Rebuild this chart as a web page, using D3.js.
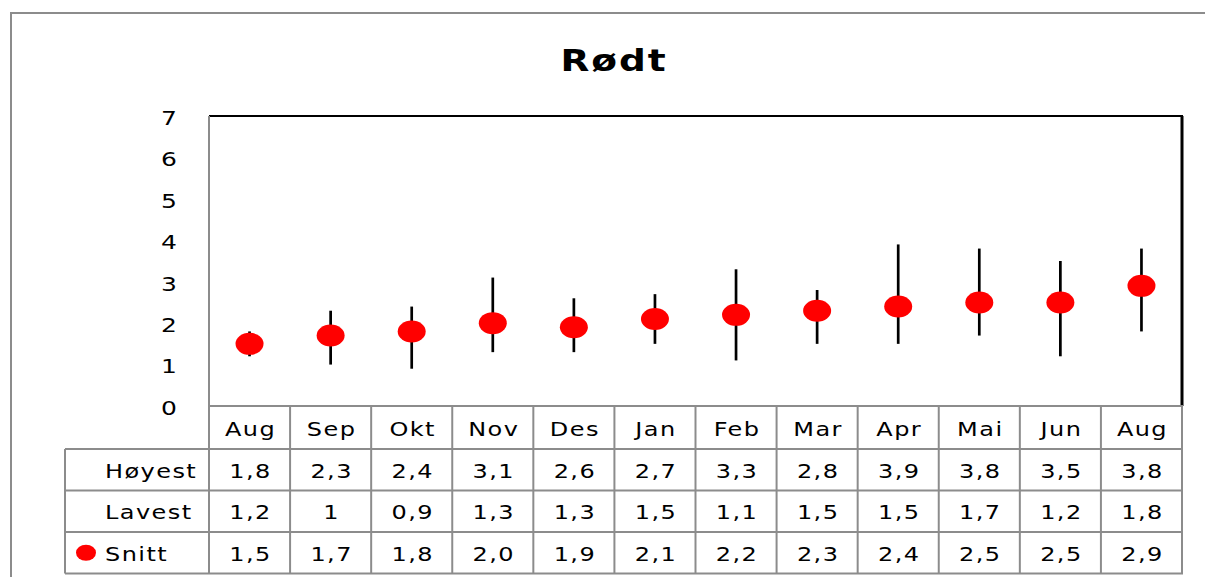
<!DOCTYPE html>
<html>
<head>
<meta charset="utf-8">
<script src="https://cdn.jsdelivr.net/npm/d3@7"></script>
<style>
  html, body { margin: 0; padding: 0; background: #fff; }
  svg { display: block; }
  text { font-family: "DejaVu Sans", sans-serif; fill: #000; }
</style>
</head>
<body>
<svg id="chart" width="1205" height="577"></svg>
<script>
const title = "Rødt";
const categories = ["Aug", "Sep", "Okt", "Nov", "Des", "Jan", "Feb", "Mar", "Apr", "Mai", "Jun", "Aug"];
const hoyest = [1.8, 2.3, 2.4, 3.1, 2.6, 2.7, 3.3, 2.8, 3.9, 3.8, 3.5, 3.8];
const lavest = [1.2, 1, 0.9, 1.3, 1.3, 1.5, 1.1, 1.5, 1.5, 1.7, 1.2, 1.8];
const snitt  = [1.5, 1.7, 1.8, 2.0, 1.9, 2.1, 2.2, 2.3, 2.4, 2.5, 2.5, 2.9];
const rowLabels = ["Høyest", "Lavest", "Snitt"];
const yTicks = [0, 1, 2, 3, 4, 5, 6, 7];

const fmtTable = [
  v => String(v).replace(".", ","),
  v => String(v).replace(".", ","),
  v => v.toFixed(1).replace(".", ",")
];

const SX = 1.2; // horizontal stretch of the original's lettering
const svg = d3.select("#chart");
const W = 1205, H = 577;
const plot = { left: 209, right: 1182, top: 116, bottom: 406 };
const rowH = 41.5;
const headerBottom = 449;
const tableLeft = 65;
const gridColor = "#8c8c8c";

const x = d3.scaleBand().domain(d3.range(categories.length)).range([plot.left, plot.right]).padding(0);
const y = d3.scaleLinear().domain([0, 7]).range([plot.bottom, plot.top]);

function label(sel, px, py, anchor) {
  return sel.attr("transform", (d, i) => `translate(${typeof px === "function" ? px(d, i) : px},${typeof py === "function" ? py(d, i) : py}) scale(${SX},1)`)
    .attr("text-anchor", anchor)
    .style("font-size", "20px").style("letter-spacing", "1.2px");
}

// Outer chart frame
svg.append("path")
  .attr("d", `M11,${H + 5} L11,13 L${W + 5},13`)
  .attr("fill", "none").attr("stroke", gridColor).attr("stroke-width", 2);

// Title
svg.append("text")
  .attr("transform", `translate(614,71) scale(1.25,1)`)
  .attr("text-anchor", "middle")
  .style("font-size", "30px").style("font-weight", "bold").style("letter-spacing", "1.5px")
  .text(title);

// Y axis labels
const yAxis = d3.axisLeft(y).tickValues(yTicks).tickSize(0).tickPadding(0).tickFormat(d3.format("d"));
const gy = svg.append("g").attr("transform", `translate(177,2)`).call(yAxis);
gy.select(".domain").remove();
gy.selectAll("text")
  .attr("x", 0)
  .attr("transform", `scale(1.25,1)`)
  .style("font-family", '"DejaVu Sans", sans-serif')
  .style("font-size", "20px").attr("fill", "#000");

// Plot area border
svg.append("line").attr("x1", plot.left).attr("x2", plot.right + 1).attr("y1", plot.top).attr("y2", plot.top)
  .attr("stroke", "#000").attr("stroke-width", 2);
svg.append("line").attr("x1", plot.right).attr("x2", plot.right).attr("y1", plot.top).attr("y2", plot.bottom)
  .attr("stroke", "#000").attr("stroke-width", 3);
svg.append("line").attr("x1", plot.left).attr("x2", plot.left).attr("y1", plot.top).attr("y2", plot.bottom)
  .attr("stroke", gridColor).attr("stroke-width", 2);

// Table grid
const tableBottom = headerBottom + rowH * 3;
const grid = svg.append("g").attr("stroke", gridColor).attr("stroke-width", 2);
grid.append("line").attr("x1", plot.left).attr("x2", plot.right + 1).attr("y1", plot.bottom).attr("y2", plot.bottom);
for (let i = 0; i <= 3; i++) {
  const yy = headerBottom + rowH * i;
  grid.append("line").attr("x1", tableLeft).attr("x2", plot.right + 1).attr("y1", yy).attr("y2", yy);
}
const bounds = d3.range(categories.length + 1).map(i => i < categories.length ? x(i) : plot.right);
bounds.forEach(bx => {
  grid.append("line").attr("x1", bx).attr("x2", bx).attr("y1", plot.bottom).attr("y2", tableBottom);
});
grid.append("line").attr("x1", tableLeft).attr("x2", tableLeft).attr("y1", headerBottom).attr("y2", tableBottom);

// Header labels
label(svg.append("g").selectAll("text").data(categories).join("text"),
  (d, i) => x(i) + x.bandwidth() / 2 + 1, (plot.bottom + headerBottom) / 2 + 8, "middle")
  .text(d => d);

// Row labels and values
const rows = [hoyest, lavest, snitt];
rows.forEach((vals, r) => {
  const cy = headerBottom + rowH * r + rowH / 2 + 8;
  label(svg.append("text"), 105, cy, "start").text(rowLabels[r]);
  label(svg.append("g").selectAll("text").data(vals).join("text"),
    (d, i) => x(i) + x.bandwidth() / 2 + 1, cy, "middle")
    .text(d => fmtTable[r](d));
});

// Legend key in table
svg.append("ellipse")
  .attr("cx", 86).attr("cy", headerBottom + rowH * 2 + rowH / 2)
  .attr("rx", 10).attr("ry", 8).attr("fill", "#ff0000");

// Error bars (high-low lines)
svg.append("g").selectAll("line").data(categories).join("line")
  .attr("x1", (d, i) => x(i) + x.bandwidth() / 2)
  .attr("x2", (d, i) => x(i) + x.bandwidth() / 2)
  .attr("y1", (d, i) => y(hoyest[i]))
  .attr("y2", (d, i) => y(lavest[i]))
  .attr("stroke", "#000").attr("stroke-width", 2.7);

// Markers
svg.append("g").selectAll("ellipse").data(snitt).join("ellipse")
  .attr("cx", (d, i) => x(i) + x.bandwidth() / 2)
  .attr("cy", d => y(d))
  .attr("rx", 14).attr("ry", 11)
  .attr("fill", "#ff0000");
</script>
</body>
</html>
